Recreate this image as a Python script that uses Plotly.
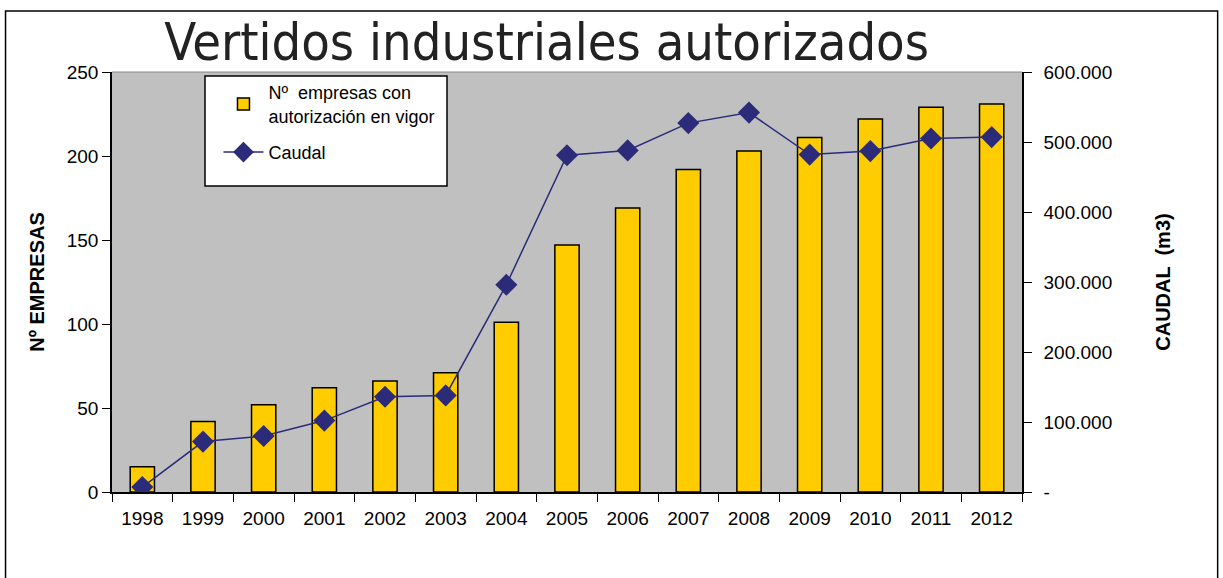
import plotly.graph_objects as go

years = ["1998", "1999", "2000", "2001", "2002", "2003", "2004", "2005",
         "2006", "2007", "2008", "2009", "2010", "2011", "2012"]
empresas = [15, 42, 52, 62, 66, 71, 101, 147, 169, 192, 203, 211, 222, 229, 231]
caudal = [7000, 72000, 80000, 102000, 136000, 138000, 296000, 481000,
          488000, 527000, 542000, 482000, 487000, 505000, 507000]

left_ticks = [0, 50, 100, 150, 200, 250]
right_tickvals = [0, 100000, 200000, 300000, 400000, 500000, 600000]
right_ticktext = ["-", "100.000", "200.000", "300.000", "400.000", "500.000", "600.000"]

fig = go.Figure()
fig.add_trace(go.Bar(
    x=years, y=empresas, name="Nº  empresas con<br>autorización en vigor",
    marker=dict(color="#FFCC00", line=dict(color="black", width=1.5)),
    yaxis="y", legendgroup="a",
))
fig.add_trace(go.Scatter(
    x=years, y=caudal, name="Caudal", mode="lines+markers",
    line=dict(color="#2B2B7A", width=1.5),
    marker=dict(symbol="diamond", size=17, color="#2B2B7A"),
    yaxis="y2", legendgroup="b",
))

font = "Liberation Sans, Arial, sans-serif"
fig.update_layout(
    width=1223, height=578,
    margin=dict(l=112, r=201, t=72, b=86),
    paper_bgcolor="white", plot_bgcolor="#C0C0C0",
    bargap=0.6,
    showlegend=True,
    legend=dict(x=0.117, y=0.995, xanchor="left", yanchor="top",
                bgcolor="rgba(0,0,0,0)", borderwidth=0,
                font=dict(family=font, size=18, color="black"),
                traceorder="grouped", tracegroupgap=10, itemwidth=40),
    title=dict(text="Vertidos industriales autorizados", x=0.447, xanchor="center",
               y=1 - 42 / 578, yanchor="middle", yref="container",
               font=dict(family="DejaVu Sans Condensed, DejaVu Sans", size=52, color="#222")),
    xaxis=dict(type="category", range=[-0.5, 14.5], tickson="boundaries",
               ticks="outside", ticklen=8, ticklabelstandoff=8,
               tickcolor="black", showline=True, linecolor="black", linewidth=1.5,
               showgrid=False, tickfont=dict(family=font, size=19, color="black")),
    yaxis=dict(range=[0, 250], tickvals=left_ticks, ticks="outside", ticklen=8,
               tickcolor="black", showline=True, linecolor="black", linewidth=1.5,
               showgrid=False, zeroline=False,
               tickfont=dict(family=font, size=19, color="black"),
               title=dict(text="<b>Nº EMPRESAS</b>", standoff=17,
                          font=dict(family=font, size=20, color="black"))),
    yaxis2=dict(range=[0, 600000], overlaying="y", side="right",
                tickvals=right_tickvals, ticktext=right_ticktext,
                ticks="outside", ticklen=8, tickcolor="black", ticklabelstandoff=8,
                showline=True, linecolor="black", linewidth=1.5,
                showgrid=False, zeroline=False,
                tickfont=dict(family=font, size=19, color="black"),
                title=dict(text="<b>CAUDAL  (m3)</b>", standoff=45,
                           font=dict(family=font, size=20, color="black"))),
)

# outer chart frame
fig.add_shape(type="rect", xref="paper", yref="paper",
              x0=-0.117, x1=1.215, y0=-0.3, y1=1.145,
              line=dict(color="black", width=1.5), layer="below")
# plot-area top edge
fig.add_shape(type="line", xref="paper", yref="paper", x0=0, x1=1, y0=1, y1=1,
              line=dict(color="#888", width=1))
# legend box
fig.add_shape(type="rect", xref="paper", yref="paper",
              x0=(205 - 112) / 910, x1=(447 - 112) / 910,
              y0=(492 - 186) / 420, y1=(492 - 76) / 420,
              fillcolor="white", line=dict(color="black", width=1.5), layer="above")

fig.write_html("out.html", config={"displayModeBar": False},
               post_script="document.body.style.margin='0';")
